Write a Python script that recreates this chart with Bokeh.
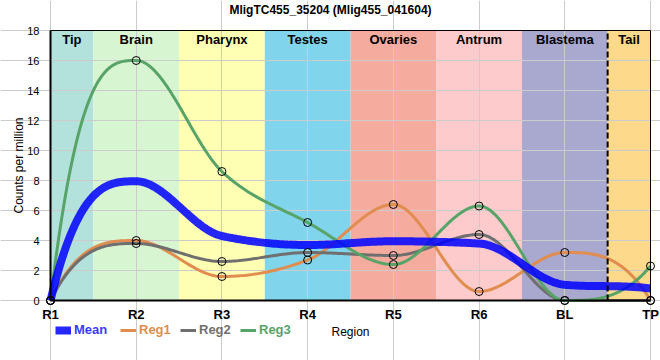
import numpy as np
from bokeh.plotting import figure
from bokeh.models import FixedTicker, Legend, LegendItem, LinearAxis
from bokeh.core.properties import value
from bokeh.embed import file_html
from bokeh.resources import INLINE

# ---------------- data ----------------
title_text = "MligTC455_35204 (Mlig455_041604)"
regions = ["R1", "R2", "R3", "R4", "R5", "R6", "BL", "TP"]
mean_vals = [0.0, 7.95, 4.3, 3.7, 3.95, 3.8, 1.05, 0.8]
reg1_vals = [0.0, 4.0, 1.6, 2.7, 6.4, 0.6, 3.2, 0.0]
reg2_vals = [0.0, 3.8, 2.6, 3.2, 3.0, 4.4, 0.0, 0.0]
reg3_vals = [0.0, 16.0, 8.6, 5.2, 2.4, 6.3, 0.0, 2.3]

band_names = ["Tip", "Brain", "Pharynx", "Testes", "Ovaries", "Antrum", "Blastema", "Tail"]
band_start = [0.0, 0.5, 1.5, 2.5, 3.5, 4.5, 5.5, 6.5]
band_end = [0.5, 1.5, 2.5, 3.5, 4.5, 5.5, 6.5, 7.0]
band_colors = ["#b3e2dd", "#d8f5d2", "#ffffb4", "#80d4eb", "#f5ab9e", "#fdcbcb", "#a9a8cf", "#fdd98b"]
divider_at = 6.5
y_ticks = [0, 2, 4, 6, 8, 10, 12, 14, 16, 18]
y_min, y_max = 0, 18

# ---------------- layout (canvas = plotting frame) ----------------
W, H = 660, 360
plot_left, plot_right, plot_top, plot_bottom = 50, 650, 30, 300
n_cat = len(regions)
x_min, x_max = 0, n_cat - 1
ppx = (plot_right - plot_left) / (x_max - x_min)
ppy = (plot_bottom - plot_top) / (y_max - y_min)
x_lo, x_hi = x_min - plot_left / ppx, x_max + (W - plot_right) / ppx
y_lo, y_hi = y_min - (H - plot_bottom) / ppy, y_max + plot_top / ppy

FONT = value("Liberation Sans")


def smooth(ys, n=40):
    """Monotone cubic Hermite curve through the points (display only)."""
    y = np.asarray(ys, dtype=float)
    x = np.arange(len(y), dtype=float)
    h = np.diff(x)
    d = np.diff(y) / h
    m = np.zeros_like(y)
    for i in range(1, len(y) - 1):
        if d[i - 1] * d[i] > 0:
            p = (d[i - 1] * h[i] + d[i] * h[i - 1]) / (h[i - 1] + h[i])
            m[i] = 2 * np.sign(d[i - 1]) * min(abs(d[i - 1]), abs(d[i]), 0.5 * abs(p))
    m[0] = 3 * d[0]
    m[-1] = 3 * d[-1]
    xs, out = [], []
    t = np.linspace(0, 1, n)
    for i in range(len(y) - 1):
        h00 = 2 * t**3 - 3 * t**2 + 1
        h10 = t**3 - 2 * t**2 + t
        h01 = -2 * t**3 + 3 * t**2
        h11 = t**3 - t**2
        seg = h00 * y[i] + h10 * h[i] * m[i] + h01 * y[i + 1] + h11 * h[i] * m[i + 1]
        xs.extend(list(x[i] + t * h[i]))
        out.extend(list(seg))
    return xs, out


p = figure(width=W, height=H, x_range=(x_lo, x_hi), y_range=(y_lo, y_hi),
           output_backend="svg", toolbar_location=None,
           min_border_left=0, min_border_right=0, min_border_top=0, min_border_bottom=0)
p.background_fill_color = "white"
p.border_fill_color = "white"
p.outline_line_color = None

# bands
p.quad(left=band_start, right=band_end, bottom=y_min, top=y_max, color=band_colors,
       line_color=None, level="image")
# white masks so grid lines stay inside the plot area
p.quad(left=[x_lo, x_max, x_min, x_min], right=[x_min, x_hi, x_max, x_max],
       bottom=[y_lo, y_lo, y_lo, y_max], top=[y_hi, y_hi, y_min, y_hi],
       color="white", line_color=None, level="underlay")

centers = [(a + b) / 2 for a, b in zip(band_start, band_end)]
p.text(x=centers, y=[y_max] * len(centers), text=band_names, text_align="center",
       text_baseline="top", y_offset=1, text_font=FONT, text_font_style="bold",
       text_font_size="13px", text_color="black")

# title
p.text(x=[(x_lo + x_hi) / 2], y=[y_hi], text=[title_text], text_align="center",
       text_baseline="top", y_offset=2, text_font=FONT, text_font_style="bold",
       text_font_size="12px", text_color="black")

# grid
p.xgrid.grid_line_color = "#cccccc"
p.xgrid.ticker = FixedTicker(ticks=list(range(n_cat)))
p.ygrid.grid_line_color = "#cccccc"
p.ygrid.ticker = FixedTicker(ticks=y_ticks)

# x axis fixed at zero
p.xaxis.fixed_location = y_min
p.xaxis.bounds = (x_min, x_max)
p.xaxis.ticker = FixedTicker(ticks=list(range(n_cat)))
p.xaxis.major_label_overrides = {i: r for i, r in enumerate(regions)}
p.xaxis.major_label_text_font = "Liberation Sans"
p.xaxis.major_label_text_font_style = "bold"
p.xaxis.major_label_text_font_size = "13px"
p.xaxis.major_label_text_color = "black"
p.xaxis.major_label_standoff = 0
p.xaxis.axis_label = "Region"
p.xaxis.axis_label_text_font = "Liberation Sans"
p.xaxis.axis_label_text_font_style = "normal"
p.xaxis.axis_label_text_font_size = "12px"
p.xaxis.axis_label_text_color = "black"
p.xaxis.axis_label_standoff = 0
p.xaxis.axis_line_width = 2
p.xaxis.axis_line_color = "black"
p.xaxis.major_tick_line_color = None
p.xaxis.minor_tick_line_color = None

# y axis fixed at first category
p.yaxis.fixed_location = x_min
p.yaxis.bounds = (y_min, y_max)
p.yaxis.ticker = FixedTicker(ticks=y_ticks)
p.yaxis.major_label_text_font = "Liberation Sans"
p.yaxis.major_label_text_font_size = "11px"
p.yaxis.major_label_text_color = "black"
p.yaxis.major_label_standoff = 5
p.yaxis.axis_label = "Counts per million"
p.yaxis.axis_label_text_font = "Liberation Sans"
p.yaxis.axis_label_text_font_style = "normal"
p.yaxis.axis_label_text_font_size = "12px"
p.yaxis.axis_label_text_color = "black"
p.yaxis.axis_label_standoff = -2
p.yaxis.axis_line_width = 2
p.yaxis.axis_line_color = "black"
p.yaxis.major_tick_line_color = None
p.yaxis.minor_tick_line_color = None

# right and top borders
rax = LinearAxis(fixed_location=x_max, bounds=(y_min, y_max), ticker=FixedTicker(ticks=[]),
                 major_tick_line_color=None, minor_tick_line_color=None,
                 major_label_text_font_size="0px", axis_line_color="black", axis_line_width=1)
p.add_layout(rax, "right")
tax = LinearAxis(fixed_location=y_max, bounds=(x_min, x_max), ticker=FixedTicker(ticks=[]),
                 major_tick_line_color=None, minor_tick_line_color=None,
                 major_label_text_font_size="0px", axis_line_color="black", axis_line_width=1)
p.add_layout(tax, "above")

# series
series = [
    ("Reg1", reg1_vals, "#e08d4f", 3),
    ("Reg2", reg2_vals, "#6f6f6f", 3),
    ("Reg3", reg3_vals, "#58a468", 3),
]
renderers = {}
for name, vals, col, w in series:
    sx, sy = smooth(vals)
    renderers[name] = p.line(sx, sy, line_color=col, line_width=w)

mx, my = smooth(mean_vals)
renderers["Mean"] = p.line(mx, my, line_color="#0000ff", line_width=8, line_alpha=0.85)

for name, vals, col, w in series:
    p.scatter(list(range(len(vals))), vals, marker="circle", size=8,
              fill_alpha=0, line_color="black", line_width=1)

p.segment(x0=[divider_at], y0=[y_min], x1=[divider_at], y1=[y_max],
          line_color="black", line_width=2, line_dash="6 3")

# legends (one per item so each label gets its series colour)
leg_specs = [("Mean", "#3a3aff", 55), ("Reg1", "#e08d4f", 120),
             ("Reg2", "#6f6f6f", 180), ("Reg3", "#58a468", 240)]
for name, col, xo in leg_specs:
    lg = Legend(items=[LegendItem(label=name, renderers=[renderers[name]])],
                location=(xo, 23), orientation="horizontal",
                padding=0, margin=0, spacing=0, label_standoff=3,
                glyph_width=16, glyph_height=14, label_height=14,
                label_text_font="Liberation Sans", label_text_font_style="bold",
                label_text_font_size="13px", label_text_color=col,
                border_line_color=None, background_fill_alpha=0)
    p.add_layout(lg, "center")

open("out.html", "w").write(file_html(p, INLINE))
